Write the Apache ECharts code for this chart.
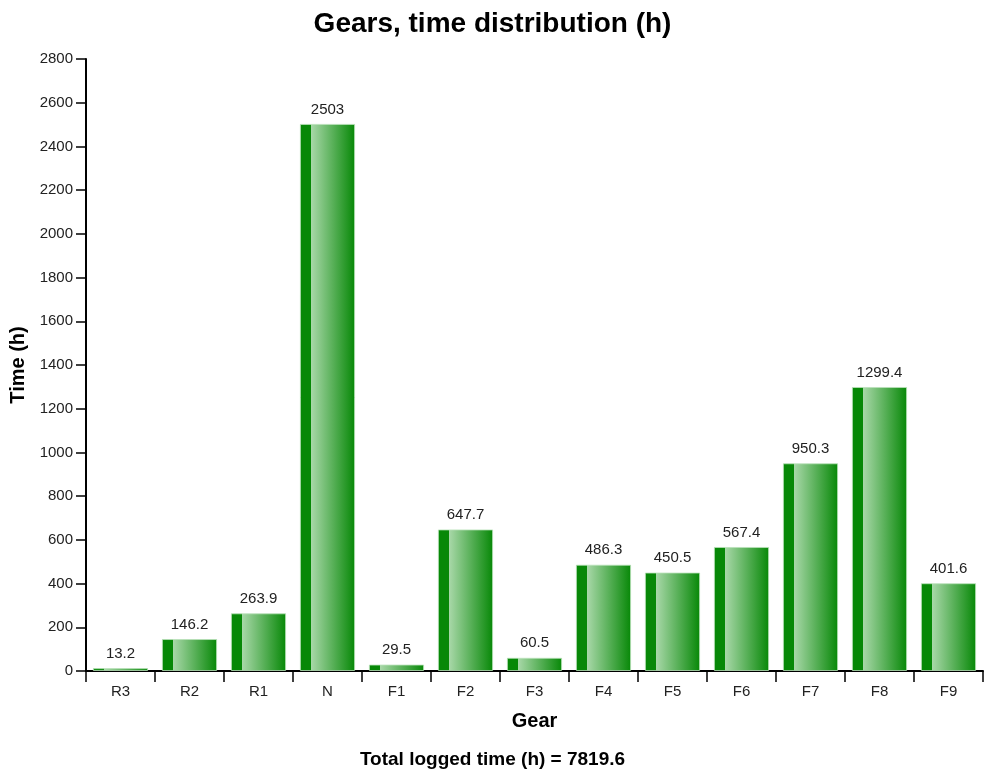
<!DOCTYPE html>
<html><head><meta charset="utf-8">
<script src="https://cdn.jsdelivr.net/npm/echarts@6/dist/echarts.min.js"></script>
<style>html,body{margin:0;padding:0;background:#fff}#c{width:985px;height:776px}</style>
</head><body><div id="c"></div>
<script>
const categories = ['R3','R2','R1','N','F1','F2','F3','F4','F5','F6','F7','F8','F9'];
const hours = [13.2,146.2,263.9,2503,29.5,647.7,60.5,486.3,450.5,567.4,950.3,1299.4,401.6];
const totalLabel = 'Total logged time (h) = 7819.6';
const font = 'Liberation Sans, Arial, sans-serif';
const chart = echarts.init(document.getElementById('c'));
const grad = new echarts.graphic.LinearGradient(0,0,1,0,[
  {offset:0,color:'#078807'},{offset:0.2,color:'#078807'},
  {offset:0.2,color:'#a9d8a9'},{offset:1,color:'#078807'}]);
chart.setOption({
  animation:false,
  title:[{text:'Gears, time distribution (h)',left:'center',top:5,
    textStyle:{fontFamily:font,fontSize:28,fontWeight:'bold',color:'#000'}},
    {text:totalLabel,left:'center',top:745,textStyle:{fontFamily:font,fontSize:19,fontWeight:'bold',color:'#000'}}],
  grid:{left:86,right:2,top:59,bottom:105,containLabel:false,outerBoundsMode:'none'},
  xAxis:{type:'category',data:categories,name:'Gear',nameLocation:'middle',nameGap:40,
    nameTextStyle:{fontFamily:font,fontSize:20,fontWeight:'bold',color:'#000'},
    axisLine:{lineStyle:{color:'#000',width:2}},
    axisTick:{show:true,length:11,lineStyle:{color:'#000',width:1.5}},
    axisLabel:{fontFamily:font,fontSize:15,color:'#222',margin:13}},
  yAxis:{type:'value',min:0,max:2800,interval:200,name:'Time (h)',nameLocation:'middle',nameGap:55,
    nameTextStyle:{fontFamily:font,fontSize:20,fontWeight:'bold',color:'#000'},
    axisLine:{show:true,lineStyle:{color:'#000',width:2}},
    axisTick:{show:true,length:10,lineStyle:{color:'#000',width:1.5}},
    splitLine:{show:false},
    axisLabel:{fontFamily:font,fontSize:15,color:'#222',margin:13,formatter:v=>String(v)}},
  series:[{type:'bar',data:hours,barCategoryGap:'20%',
    itemStyle:{color:grad,borderColor:'rgba(185,225,185,0.8)',borderWidth:1},
    label:{show:true,position:'top',distance:7,fontFamily:font,fontSize:15,color:'#222'}}]
});
</script></body></html>
